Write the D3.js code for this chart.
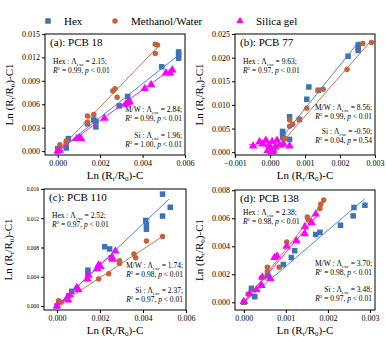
<!DOCTYPE html>
<html><head><meta charset="utf-8">
<script src="https://cdn.jsdelivr.net/npm/d3@7"></script>
<style>body{margin:0;background:#fff}svg{display:block}text{font-family:"Liberation Serif","Times New Roman",serif;fill:#000}</style>
</head><body>
<svg id="c" width="386" height="355"></svg>
<script>
// ---- data ----
const seriesNames = ["Hex", "Methanol/Water", "Silica gel"];
const panelTitles = ["(a): PCB 18", "(b): PCB 77", "(c): PCB 110", "(d): PCB 138"];

const pcb18Hex = [[0,0],[0,0.0003],[0.0004,0.0004],[0.0004,0.0006],[0.0005,0.0016],[0.0014,0.0035],[0.0017,0.0040],[0.0018,0.0031],[0.0018,0.0038],[0.0029,0.0058],[0.0033,0.0070],[0.0049,0.0108],[0.0057,0.0119],[0.0057,0.0124],[0.0057,0.0127]];
const pcb18MW = [[0,0.0002],[0.0001,0.0008],[0.0004,0.0010],[0.0004,0.0013],[0.0014,0.0037],[0.0014,0.0045],[0.0017,0.0047],[0.0026,0.0077],[0.0027,0.0080],[0.0028,0.0069],[0.0046,0.0125],[0.0046,0.0137],[0.0047,0.0136]];
const pcb18Si = [[0,0],[0.0001,0.0001],[0.0009,0.0016],[0.0010,0.0017],[0.0011,0.0016],[0.0022,0.0042],[0.0032,0.0060],[0.0033,0.0062],[0.0034,0.0063],[0.0041,0.0080],[0.0044,0.0085],[0.0051,0.0100],[0.0053,0.0100],[0.0054,0.0104]];
const pcb18Fits = [[[0,0],[0.0057,0.0123]],[[0,0],[0.0047,0.0133]],[[0,0],[0.0054,0.0106]]];

const pcb77Hex = [[0.00252,0.0227],[0.00252,0.0220],[0.00252,0.0215],[0.00223,0.0203],[0.00111,0.0138],[0.00138,0.0131],[0.00105,0.0112],[0.00084,0.0069],[0.00056,0.0075],[0.00036,0.0044],[0.00036,0.0040],[0.00036,0.0032],[0.00056,0.0027],[0.0001,0.0002]];
const pcb77MW = [[0.00265,0.0230],[0.0029,0.0232],[0.0022,0.0175],[0.00152,0.0133],[0.00138,0.0130],[0.00105,0.0093],[0.00084,0.0070],[0.00065,0.0059],[0.00056,0.0068],[0.00056,0.0055],[0.00043,0.0029],[0.00038,0.0028],[0.0001,0.0003]];
const pcb77Si = [[-0.00048,0.0013],[-0.0003,0.0022],[-0.00021,0.0017],[-0.00012,0.0025],[-0.00003,0.0015],[0,0.0008],[0.00006,0.0022],[0.0001,0.0004],[0.00015,0.0011],[0.0002,0.0025],[0.00027,0.0015],[0.00038,0.0018],[0.00056,0.0013],[0.00005,0.0001],[-0.00007,0.0003]];
const pcb77Fits = [[[0,0],[0.00255,0.0235]],[[0.0001,0],[0.0029,0.0237]],[[-0.0006,0.0016],[0.0006,0.0010]]];

const pcb110Hex = [[0.00491,0.0153],[0.00527,0.0135],[0.00491,0.0123],[0.00413,0.0117],[0.00416,0.0111],[0.00416,0.0105],[0.00222,0.0081],[0.00245,0.0078],[0.00253,0.0066],[0.00144,0.0049],[0.00144,0.0045],[0.00069,0.0020],[0.00055,0.0014],[0,0]];
const pcb110MW = [[0.00491,0.0095],[0.00416,0.0089],[0.00358,0.0071],[0.00366,0.0066],[0.00291,0.0062],[0.00291,0.0058],[0.00241,0.0044],[0.00194,0.0037],[0.00008,0.0007],[0.00003,0.0001],[0.0002,0.0005]];
const pcb110Si = [[0.00272,0.0075],[0.00256,0.0066],[0.00261,0.0064],[0.00194,0.0056],[0.00202,0.0054],[0.00186,0.0051],[0.00147,0.0042],[0.00142,0.0037],[0.00092,0.0025],[0.001,0.0022],[0.00061,0.0015],[0.00045,0.0010],[0.00053,0.0008],[0,0]];
const pcb110Fits = [[[0,0],[0.0052,0.0146]],[[0,0],[0.0049,0.0095]],[[0,0],[0.0028,0.0078]]];

const pcb138Hex = [[0.00288,0.00693],[0.00262,0.00677],[0.0026,0.00617],[0.0023,0.0055],[0.00181,0.0050],[0.00171,0.00484],[0.00113,0.0032],[0.00121,0.00368],[0.00094,0.0027],[0.00056,0.0019],[0.00018,0.0010],[0.00026,0.0004],[0,0]];
const pcb138MW = [[0.0019,0.0073],[0.00183,0.0070],[0.00181,0.0067],[0.00151,0.0061],[0.00153,0.0059],[0.00102,0.0043],[0.00084,0.0025],[0.00056,0.0025],[0.00056,0.0022],[0.00042,0.00176],[0.00042,0.0012],[0.0001,0.0006],[0.00002,0]];
const pcb138Si = [[0.00171,0.0063],[0.00161,0.0057],[0.00145,0.0054],[0.00145,0.0049],[0.00125,0.0044],[0.00102,0.0040],[0.00079,0.0033],[0.00073,0.0032],[0.00063,0.0017],[0.00044,0.0018],[0.00042,0.0012],[0.0003,0.0009],[0.00014,0.0006],[0,0.00005]];
const pcb138Fits = [[[0,0],[0.00288,0.0074]],[[0,0],[0.00193,0.0073]],[[0,0],[0.00177,0.0063]]];

const xTicksA = [0, 0.002, 0.004, 0.006];
const xTicksB = [-0.001, 0, 0.001, 0.002, 0.003];
const xTicksD = [0, 0.001, 0.002, 0.003];
const yTicksA = [0, 0.003, 0.006, 0.009, 0.012, 0.015];
const yTicksB = [0, 0.005, 0.010, 0.015, 0.020, 0.025];
const yTicksC = [0, 0.004, 0.008, 0.012, 0.016];
const yTicksD = [0, 0.002, 0.004, 0.006, 0.008];

const lambdas = [["2.15","2.84","1.96"],["9.63","8.56","-0.50"],["2.52","1.74","2.37"],["2.38","3.70","3.48"]];
const r2s = [["0.99","0.99","1.00"],["0.97","0.99","0.04"],["0.97","0.98","0.97"],["0.98","0.98","0.97"]];
const pvals = [["< 0.01","< 0.01","< 0.01"],["< 0.01","< 0.01","= 0.54"],["< 0.01","< 0.01","< 0.01"],["< 0.01","< 0.01","< 0.01"]];

// ---- layout ----
const colors = ["#3d72b4", "#c5623a", "#ff00ff"];
const lineColors = ["#3a7bc0", "#c5623a", "#ff00ff"];
const panels = [
  {box:[45,34,185,155], xd:[-0.0006,0.006], yd:[-0.0005,0.015], xt:xTicksA, yt:yTicksA, data:[pcb18Hex,pcb18MW,pcb18Si], fits:pcb18Fits, yfs:8},
  {box:[235,34,375,155], xd:[-0.001,0.003], yd:[-0.0006,0.025], xt:xTicksB, yt:yTicksB, data:[pcb77Hex,pcb77MW,pcb77Si], fits:pcb77Fits, yfs:8},
  {box:[44,189,186,310], xd:[-0.0006,0.006], yd:[-0.00055,0.016], xt:xTicksA, yt:yTicksC, data:[pcb110Hex,pcb110MW,pcb110Si], fits:pcb110Fits, yfs:5.5},
  {box:[235,190,375,310], xd:[-0.00021,0.00312], yd:[-0.00055,0.00802], xt:xTicksD, yt:yTicksD, data:[pcb138Hex,pcb138MW,pcb138Si], fits:pcb138Fits, yfs:8}
];
const annY = [[64,112,138],[64,110,134],[218,268,293],[215,266,292]];

const svg = d3.select("#c");

function marker(g, type, x, y, color, s) {
  if (type === 0) g.append("rect").attr("x", x - s/2).attr("y", y - s/2).attr("width", s).attr("height", s).attr("fill", color);
  else if (type === 1) g.append("circle").attr("cx", x).attr("cy", y).attr("r", s/2).attr("fill", color);
  else g.append("path").attr("d", d3.symbol(d3.symbolTriangle, s*s*0.75)()).attr("transform", `translate(${x},${y})`).attr("fill", color);
}

// legend
const legX = [48, 115, 240];
seriesNames.forEach((n, i) => {
  marker(svg, i, legX[i], 21, colors[i], 5.5);
  svg.append("text").attr("x", legX[i] + 16).attr("y", 25).attr("font-size", 11).text(n);
});

function lambdaText(g, x, y, anchor, name, lam, r2, p) {
  const t1 = g.append("text").attr("x", x).attr("y", y).attr("font-size", 7.5).attr("text-anchor", anchor);
  t1.append("tspan").text(name + " : Λ");
  t1.append("tspan").attr("font-size", 5).attr("dy", 1.5).text("exc");
  t1.append("tspan").attr("dy", -1.5).text(" = " + lam + ";");
  const t2 = g.append("text").attr("x", x).attr("y", y + 9).attr("font-size", 7.5).attr("text-anchor", anchor);
  t2.append("tspan").attr("font-style", "italic").text("R");
  t2.append("tspan").attr("font-size", 5).attr("dy", -3).text("2");
  t2.append("tspan").attr("dy", 3).text(" = " + r2 + ", ");
  t2.append("tspan").attr("font-style", "italic").text("p");
  t2.append("tspan").text(" " + p);
}

function rtitle(t) {
  t.append("tspan").text("Ln (R");
  t.append("tspan").attr("font-size", 7).attr("dy", 2).text("t");
  t.append("tspan").attr("dy", -2).text("/R");
  t.append("tspan").attr("font-size", 7).attr("dy", 2).text("0");
  t.append("tspan").attr("dy", -2).text(")-C");
}

panels.forEach((p, k) => {
  const [l, t, r, b] = p.box;
  const x = d3.scaleLinear().domain(p.xd).range([l, r]);
  const y = d3.scaleLinear().domain(p.yd).range([b, t]);
  const g = svg.append("g");

  const clip = "clip" + k;
  g.append("clipPath").attr("id", clip).append("rect").attr("x", l).attr("y", t).attr("width", r - l).attr("height", b - t);
  const plot = g.append("g").attr("clip-path", `url(#${clip})`);

  p.data.forEach((ser, i) => {
    ser.forEach(d => marker(plot, i, x(d[0]), y(d[1]), colors[i], i === 2 ? 6.5 : 5.5));
  });
  p.fits.forEach((f, i) => {
    plot.append("line").attr("x1", x(f[0][0])).attr("y1", y(f[0][1])).attr("x2", x(f[1][0])).attr("y2", y(f[1][1]))
      .attr("stroke", lineColors[i]).attr("stroke-width", 0.9);
  });

  const xa = g.append("g").attr("transform", `translate(0,${b})`)
    .call(d3.axisBottom(x).tickValues(p.xt).tickFormat(d3.format(".3f")).tickSize(3).tickPadding(2));
  xa.selectAll("text").attr("font-size", 8).attr("font-family", "Liberation Serif");
  const ya = g.append("g").attr("transform", `translate(${l},0)`)
    .call(d3.axisLeft(y).tickValues(p.yt).tickFormat(d3.format(".3f")).tickSize(3).tickPadding(2));
  ya.selectAll("text").attr("font-size", p.yfs).attr("font-family", "Liberation Serif");
  [xa, ya].forEach(a => { a.select(".domain").remove(); a.selectAll("line").attr("stroke", "#000"); });

  g.append("rect").attr("x", l).attr("y", t).attr("width", r - l).attr("height", b - t)
    .attr("fill", "none").attr("stroke", "#000").attr("stroke-width", 1);

  g.append("text").attr("x", l + 5).attr("y", t + 12).attr("font-size", 11).text(panelTitles[k]);

  const names = ["Hex", "M/W", "Si"];
  lambdaText(g, l + 8, annY[k][0], "start", names[0], lambdas[k][0], r2s[k][0], pvals[k][0]);
  lambdaText(g, r - 3, annY[k][1], "end", names[1], lambdas[k][1], r2s[k][1], pvals[k][1]);
  lambdaText(g, r - 3, annY[k][2], "end", names[2], lambdas[k][2], r2s[k][2], pvals[k][2]);

  const xt = g.append("text").attr("x", (l + r) / 2).attr("y", b + 24).attr("font-size", 11).attr("text-anchor", "middle");
  rtitle(xt);
  const yt = g.append("text").attr("transform", `translate(${l - 32},${(t + b) / 2}) rotate(-90)`)
    .attr("font-size", 11).attr("text-anchor", "middle");
  rtitle(yt);
  yt.append("tspan").text("1");
});
</script>
</body></html>
